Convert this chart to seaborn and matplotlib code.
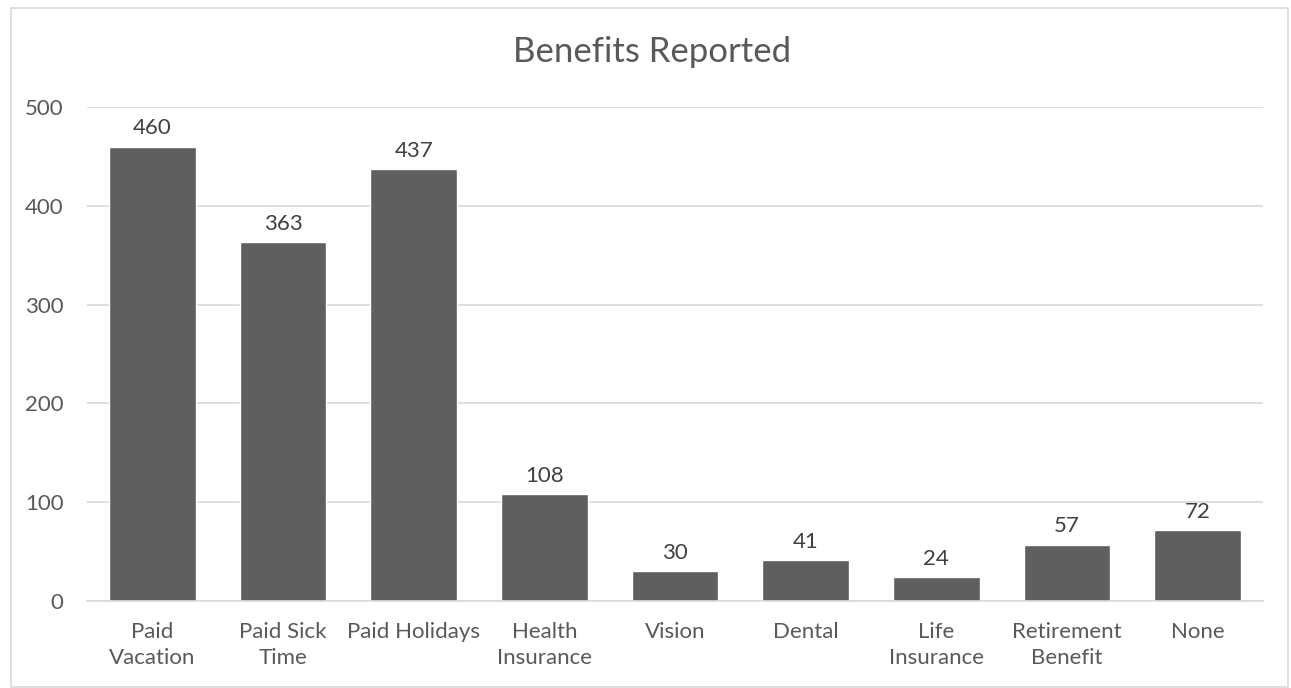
import matplotlib
matplotlib.use("Agg")
import matplotlib.pyplot as plt
import seaborn as sns
import pandas as pd
from matplotlib.patches import Rectangle

categories = ["Paid\nVacation", "Paid Sick\nTime", "Paid Holidays", "Health\nInsurance",
              "Vision", "Dental", "Life\nInsurance", "Retirement\nBenefit", "None"]
values = [460, 363, 437, 108, 30, 41, 24, 57, 72]
yticks = [0, 100, 200, 300, 400, 500]

sns.set_theme(style="white")
plt.rcParams['font.family'] = ['Lato', 'DejaVu Sans']

W, H = 1291, 688
fig = plt.figure(figsize=(W / 100, H / 100), dpi=100)
ax = fig.add_axes([87 / W, 1 - 601 / H, (1263 - 87) / W, (601 - 107) / H])

df = pd.DataFrame({"cat": categories, "val": values})
sns.barplot(data=df, x="cat", y="val", color="#5f5f5f", saturation=1, width=0.665, ax=ax)

ax.set_xlim(-0.5, len(categories) - 0.5)
ax.set_ylim(0, 500)
ax.set_yticks(yticks)
ax.set_yticklabels([str(t) for t in yticks])
ax.yaxis.grid(True, color="#d9d9d9", linewidth=1.2)
ax.set_axisbelow(True)
for s in ["top", "right", "left"]:
    ax.spines[s].set_visible(False)
ax.spines["bottom"].set_color("#d9d9d9")
ax.spines["bottom"].set_linewidth(1.2)
ax.set_xlabel("")
ax.set_ylabel("")
ax.tick_params(axis="both", length=0, labelsize=16, colors="#595959")
ax.tick_params(axis="y", pad=17)
ax.tick_params(axis="x", pad=15)
for lab in ax.get_xticklabels():
    lab.set_linespacing(1.4)

for i, v in enumerate(values):
    ax.annotate(str(v), (i, v), xytext=(0, 6), textcoords="offset points",
                ha="center", va="bottom", fontsize=16, color="#404040")

fig.text(652 / W, 1 - 52 / H, "Benefits Reported", ha="center", va="center",
         fontsize=25, color="#595959")

fig.patches.append(Rectangle((11 / W, 1 / H), (1288 - 11) / W, (680 - 1) / H,
                             transform=fig.transFigure, fill=False,
                             edgecolor="#d9d9d9", linewidth=1.2))

fig.savefig("out.png", dpi=100)
